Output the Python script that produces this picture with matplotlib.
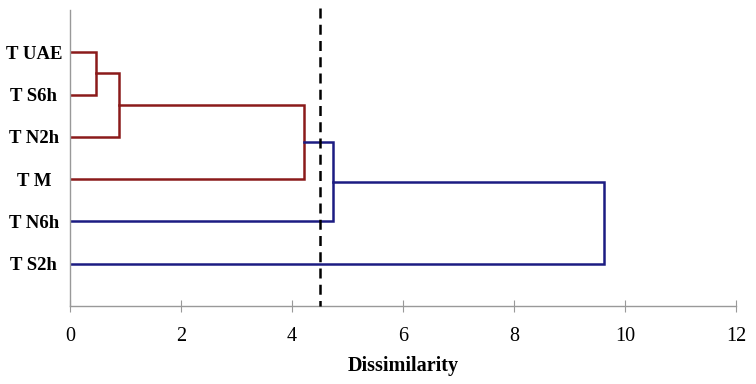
import matplotlib
matplotlib.use('Agg')
import matplotlib.pyplot as plt

# Leaves from top to bottom
labels = ['T UAE', 'T S6h', 'T N2h', 'T M', 'T N6h', 'T S2h']
# merges: (child a, child b, dissimilarity); new clusters get ids 6, 7, ...
merge_a = [0, 6, 7, 8, 9]
merge_b = [1, 2, 3, 4, 5]
merge_height = [0.47, 0.88, 4.22, 4.74, 9.62]
merge_color = ['#8B1A1A', '#8B1A1A', '#8B1A1A', '#1C1C82', '#1C1C82']
cut_level = 4.5
xticks = [0, 2, 4, 6, 8, 10, 12]

plt.rcParams['font.family'] = ['Liberation Serif', 'DejaVu Serif']

fig = plt.figure(figsize=(7.56, 3.84), dpi=100)
ax = fig.add_axes([70 / 756, 1 - 306 / 384, 666 / 756, 296 / 384])

pos = {i: float(i) for i in range(len(labels))}
height = {i: 0.0 for i in range(len(labels))}
for k, (a, b, h, c) in enumerate(zip(merge_a, merge_b, merge_height, merge_color)):
    ya, yb = pos[a], pos[b]
    ax.plot([height[a], h, h, height[b]], [ya, ya, yb, yb], color=c, lw=1.8,
            solid_joinstyle='miter', zorder=2)
    new = len(labels) + k
    pos[new] = (ya + yb) / 2
    height[new] = h

ax.plot([cut_level, cut_level], [-1.05, 6.0], color='black', lw=1.8,
        ls=(0, (4, 2.5)), zorder=3, clip_on=False)

ax.set_xlim(0, 12)
ax.set_ylim(6, -1)
ax.set_xticks(xticks)
ax.set_yticks(range(len(labels)))
ax.set_yticklabels(labels, fontsize=13.5, fontweight='bold', ha='center')
ax.tick_params(axis='y', length=0, pad=26)
ax.tick_params(axis='x', direction='inout', length=8, color='#999999',
               labelsize=14.5, pad=11)

for s in ['top', 'right']:
    ax.spines[s].set_visible(False)
for s in ['left', 'bottom']:
    ax.spines[s].set_color('#999999')
    ax.spines[s].set_linewidth(1.0)

ax.set_xlabel('Dissimilarity', fontsize=14.5, fontweight='bold', labelpad=7)

fig.savefig('out.png', dpi=100)
